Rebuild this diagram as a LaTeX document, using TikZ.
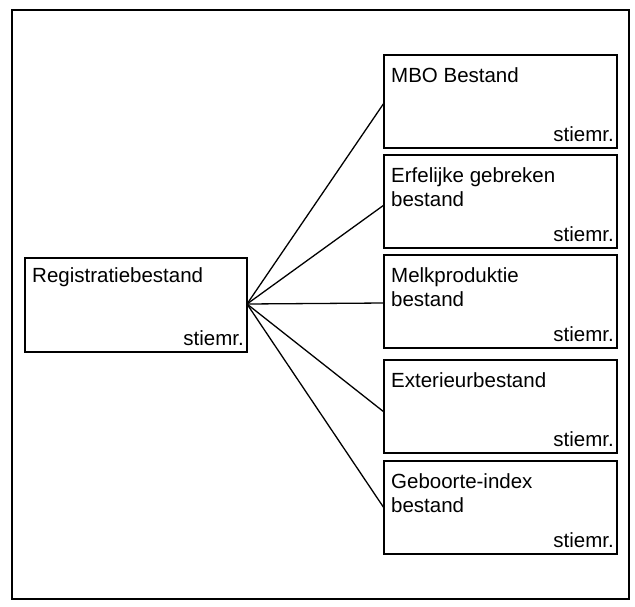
\documentclass[tikz,border=0pt]{standalone}
\usepackage{fontspec}
\setmainfont{Liberation Sans}
\usetikzlibrary{calc}
\newcommand{\twolines}[2]{\vtop{\hbox{#1}\hbox{#2}}}
\begin{document}
\begin{tikzpicture}[x=1pt,y=-1pt,
  box/.style={draw,line width=1.6pt,inner sep=0pt,outer sep=0pt,anchor=north west,minimum width=233pt,minimum height=93pt},
  title/.style={anchor=base west,inner sep=0pt,font=\fontsize{20.5}{24}\selectfont},
  key/.style={anchor=base east,inner sep=0pt,font=\fontsize{20.5}{24}\selectfont},
  link/.style={line width=1.3pt}]
\useasboundingbox (0,0) rectangle (635,606);
\draw[line width=2.4pt] (12,10) rectangle (629,599);
% left box
\node[box,minimum width=222pt,minimum height=94pt] (reg) at (25,258) {};
\node[title] (regt) at ($(reg.north west)+(7,24)$) {Registratiebestand};
\node[key] (regk) at ($(reg.south east)+(-3,-7)$) {stiemr.};
% right boxes
\node[box] (mbo) at (384,55) {};
\node[box] (erf) at (384,155) {};
\node[box] (melk) at (384,255) {};
\node[box] (ext) at (384,360) {};
\node[box] (geb) at (384,461) {};
\node[title] (mbot) at ($(mbo.north west)+(7,27)$) {MBO Bestand};
\node[title] (erft) at ($(erf.north west)+(7,27)$) {\twolines{Erfelijke gebreken}{bestand}};
\node[title] (melkt) at ($(melk.north west)+(7,27)$) {\twolines{Melkproduktie}{bestand}};
\node[title] (extt) at ($(ext.north west)+(7,27)$) {Exterieurbestand};
\node[title] (gebt) at ($(geb.north west)+(7,27)$) {\twolines{Geboorte-index}{bestand}};
\foreach \b in {mbo,erf,melk,ext,geb}{
  \node[key] (\b k) at ($(\b.south east)+(-3,-7)$) {stiemr.};
}
% connectors
\coordinate (o) at ($(reg.north east)+(0,46)$);
\draw[link] (o) -- ($(mbo.north west)+(0,48)$);
\draw[link] (o) -- ($(erf.north west)+(0,50)$);
\draw[link] (o) -- ($(melk.north west)+(0,48)$);
\draw[link] (o) -- ($(ext.north west)+(0,52)$);
\draw[link] (o) -- ($(geb.north west)+(0,47)$);
\end{tikzpicture}
\end{document}
